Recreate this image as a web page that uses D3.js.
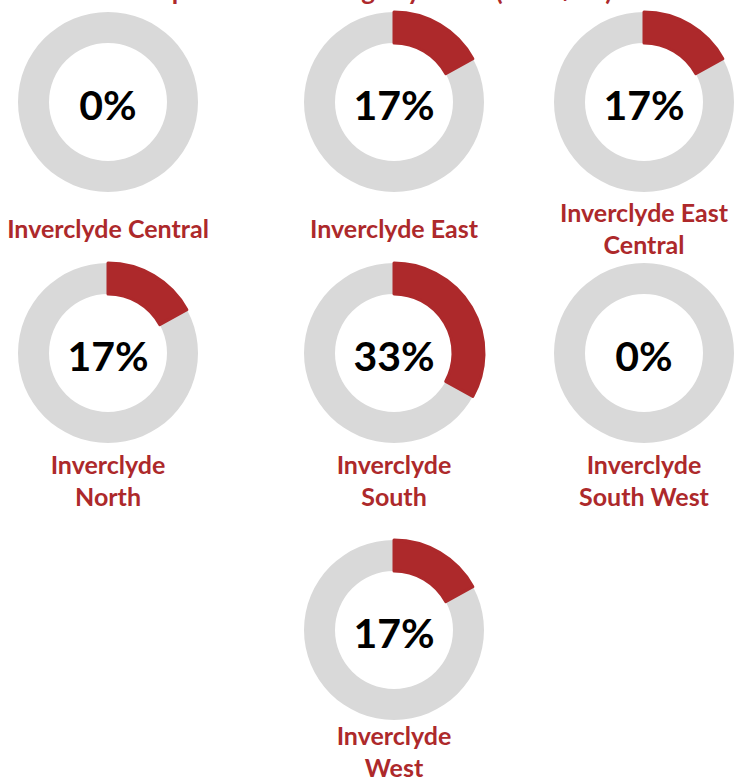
<!DOCTYPE html>
<html>
<head>
<meta charset="utf-8">
<script src="https://cdn.jsdelivr.net/npm/d3@7"></script>
<style>
  body { margin: 0; background: #fff; }
  svg { display: block; }
</style>
</head>
<body>
<div id="container"></div>
<script>
// data
let wards = ["Inverclyde Central", "Inverclyde East", "Inverclyde East Central",
             "Inverclyde North", "Inverclyde South", "Inverclyde South West",
             "Inverclyde West"];
let labelLines = [["Inverclyde Central"], ["Inverclyde East"], ["Inverclyde East", "Central"],
                  ["Inverclyde", "North"], ["Inverclyde", "South"], ["Inverclyde", "South West"],
                  ["Inverclyde", "West"]];
let percents = [0, 17, 17, 17, 33, 0, 17];
let titleText = "Proportion of Settings by Ward (2019/20)";

let w = 744;
let h = 778;
let red = "#ad292b";
let grey = "#d9d9d9";
let font = "Lato, 'Open Sans', sans-serif";

let viz = d3.select("#container")
  .append("svg")
    .attr("width", w)
    .attr("height", h)
;

// grid placement, three per row
let colX = d3.scaleOrdinal().domain([0, 1, 2]).range([108, 394, 644]);
let rowY = d3.scaleOrdinal().domain([0, 1, 2]).range([102, 353, 630]);
// offset of the label block below the ring centre, per row
let labelOff = d3.scaleOrdinal().domain([0, 1, 2]).range([126, 127, 121]);
// last one sits in the middle column
function col(i){ return i == 6 ? 1 : i % 3; }
function row(i){ return Math.floor(i / 3); }

let outerR = 90;
let innerR = 59;
let angle = d3.scaleLinear().domain([0, 100]).range([0, 2 * Math.PI]);
let arcMaker = d3.arc().innerRadius(innerR).outerRadius(outerR);

// title, mostly cut off at the top edge (only descenders show)
viz.append("text")
    .attr("x", 372)
    .attr("y", 0)
    .attr("text-anchor", "middle")
    .attr("font-family", font)
    .attr("font-weight", "bold")
    .attr("font-size", 26)
    .attr("fill", red)
    .text(titleText)
;

let data = wards.map(function(d, i){
  return { ward: d, lines: labelLines[i], pct: percents[i], i: i };
});

let groups = viz.selectAll(".donut").data(data).enter()
  .append("g")
    .attr("class", "donut")
    .attr("transform", function(d){
      return "translate(" + colX(col(d.i)) + "," + rowY(row(d.i)) + ")";
    })
;

// full grey ring
groups.append("path")
    .attr("d", arcMaker({ startAngle: 0, endAngle: 2 * Math.PI }))
    .attr("fill", grey)
;

// red slice from 12 o'clock, clockwise
groups.filter(function(d){ return d.pct > 0; })
  .append("path")
    .attr("d", function(d){
      return arcMaker({ startAngle: 0, endAngle: angle(d.pct) });
    })
    .attr("fill", red)
    .attr("stroke", red)
    .attr("stroke-width", 3)
    .attr("stroke-linejoin", "round")
;

// big percentage in the middle
groups.append("text")
    .attr("y", 2)
    .attr("text-anchor", "middle")
    .attr("dominant-baseline", "central")
    .attr("font-family", font)
    .attr("font-weight", "bold")
    .attr("font-size", 41)
    .attr("fill", "#000")
    .text(function(d){ return d.pct + "%"; })
;

// ward name under each ring
let lineGap = 32;
groups.append("text")
    .attr("text-anchor", "middle")
    .attr("font-family", font)
    .attr("font-weight", "bold")
    .attr("font-size", 25)
    .attr("fill", red)
  .selectAll("tspan")
  .data(function(d){
    return d.lines.map(function(t){ return { t: t, n: d.lines.length, r: row(d.i) }; });
  })
  .enter()
  .append("tspan")
    .attr("x", 0)
    .attr("y", function(d, j){
      return labelOff(d.r) + (j - (d.n - 1) / 2) * lineGap;
    })
    .attr("dominant-baseline", "central")
    .text(function(d){ return d.t; })
;
</script>
</body>
</html>
